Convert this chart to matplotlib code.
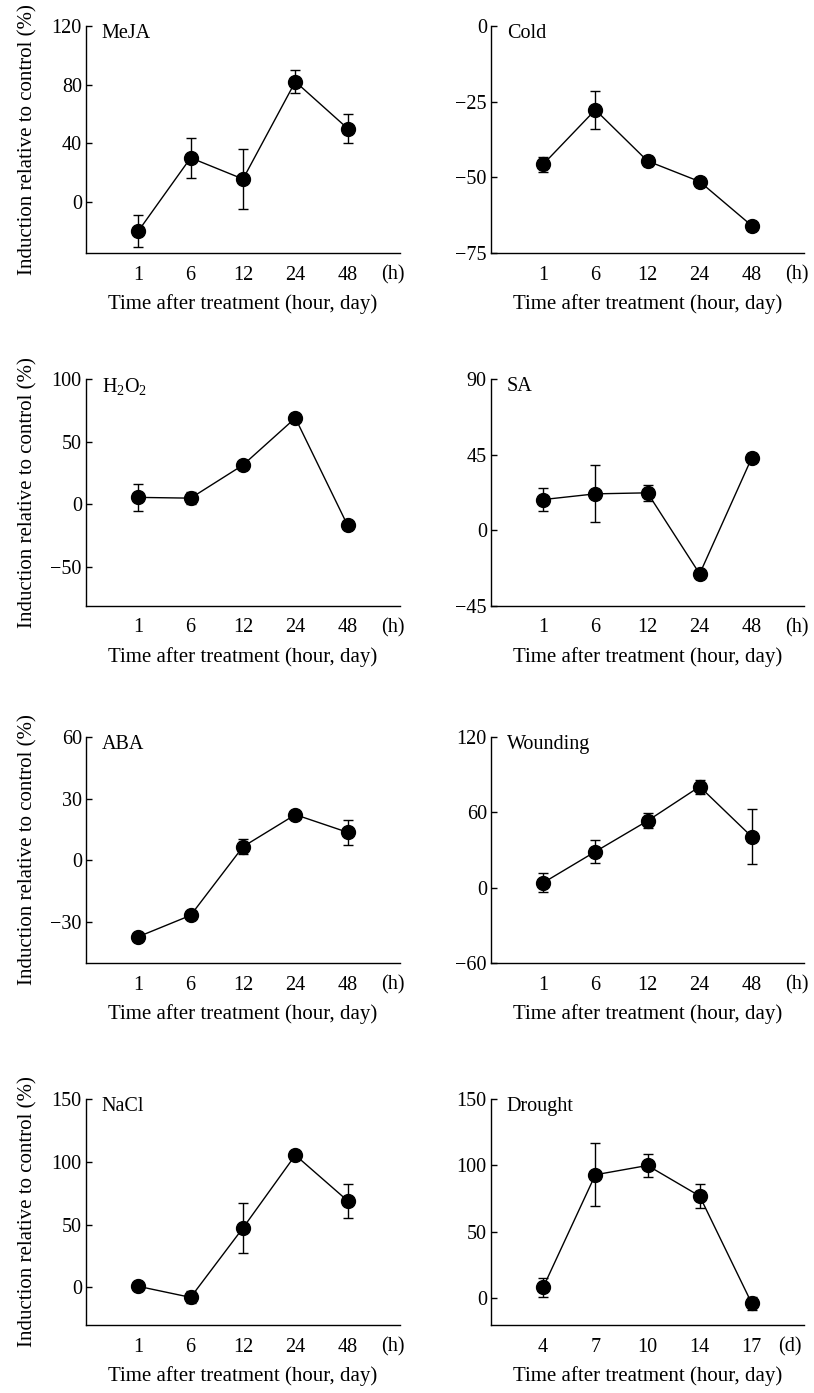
import numpy as np
import matplotlib.pyplot as plt

plt.rcParams['font.family'] = 'Liberation Serif'
plt.rcParams['mathtext.fontset'] = 'custom'
plt.rcParams['mathtext.rm'] = 'Liberation Serif'
plt.rcParams['mathtext.default'] = 'regular'

hours = ['1', '6', '12', '24', '48']
days = ['4', '7', '10', '14', '17']

names = ['MeJA', 'Cold', 'H$_2$O$_2$', 'SA', 'ABA', 'Wounding', 'NaCl', 'Drought']

meja = [-20, 30, 15.5, 82, 50]
meja_err = [11, 13.5, 20.5, 7.8, 10]
cold = [-45.7, -27.7, -44.6, -51.4, -66]
cold_err = [2.5, 6.2, 1.5, 1, 1]
h2o2 = [5.6, 5, 31.4, 68.9, -16.8]
h2o2_err = [11, 5, 1, 1, 1]
sa = [18.3, 21.7, 22.3, -25.9, 43.2]
sa_err = [6.7, 17, 4.9, 1, 2.5]
aba = [-37.2, -26.8, 6.6, 22.2, 13.6]
aba_err = [1, 1, 3.7, 1, 6.2]
wounding = [3.9, 28.7, 53.2, 80.5, 40.5]
wounding_err = [7.7, 9.3, 6, 5.5, 22]
nacl = [0.8, -8, 47.3, 105.3, 68.9]
nacl_err = [1, 4.7, 19.8, 1, 13.6]
drought = [8.3, 93, 100, 77, -3.8]
drought_err = [7, 23.6, 9, 9, 5]

series = [meja, cold, h2o2, sa, aba, wounding, nacl, drought]
errors = [meja_err, cold_err, h2o2_err, sa_err, aba_err, wounding_err, nacl_err, drought_err]
ylims = [(-35, 120), (-75, 0), (-81, 100), (-45, 90), (-50, 60), (-60, 120), (-30, 150), (-20, 150)]
yticks = [[0, 40, 80, 120], [-75, -50, -25, 0], [-50, 0, 50, 100], [-45, 0, 45, 90],
          [-30, 0, 30, 60], [-60, 0, 60, 120], [0, 50, 100, 150], [0, 50, 100, 150]]

W, H = 814, 1393
fig = plt.figure(figsize=(W / 100, H / 100), dpi=100)

# axes boxes in pixels: left, top, right, bottom
col_x = [(86, 400), (491, 804)]
row_y = [(26, 253), (379, 606), (737, 963), (1099, 1325)]

for i in range(8):
    r, c = divmod(i, 2)
    x0, x1 = col_x[c]
    y0, y1 = row_y[r]
    ax = fig.add_axes([x0 / W, 1 - y1 / H, (x1 - x0) / W, (y1 - y0) / H])
    x = np.arange(5)
    ax.errorbar(x, series[i], yerr=errors[i], fmt='-o', color='black', ms=10,
                lw=1, elinewidth=1, capsize=3.5, capthick=1)
    ax.set_xlim(-1, 5)
    ax.set_ylim(*ylims[i])
    ax.set_yticks(yticks[i])
    ax.set_yticklabels([str(t).replace('-', '\u2212') for t in yticks[i]])
    if i == 7:
        ax.set_xticks(list(x) + [4.73])
        ax.set_xticklabels(days + ['(d)'])
    else:
        ax.set_xticks(list(x) + [4.87])
        ax.set_xticklabels(hours + ['(h)'])
    ax.tick_params(axis='x', length=0, pad=9, labelsize=14.5)
    ax.tick_params(axis='y', direction='in', length=4.5, width=1, pad=3, labelsize=14.5)
    for s in ['top', 'right']:
        ax.spines[s].set_visible(False)
    for s in ['left', 'bottom']:
        ax.spines[s].set_linewidth(1)
    ax.set_xlabel('Time after treatment (hour, day)', fontsize=15)
    ax.xaxis.set_label_coords(0.5, -0.18)
    if c == 0:
        ax.set_ylabel('Induction relative to control (%)', fontsize=15)
        ax.yaxis.set_label_coords(-0.155, 0.5)
    ax.text(0.05, 0.965, names[i], transform=ax.transAxes, fontsize=14.5, va='center', ha='left')

fig.savefig('out.png', dpi=100)
